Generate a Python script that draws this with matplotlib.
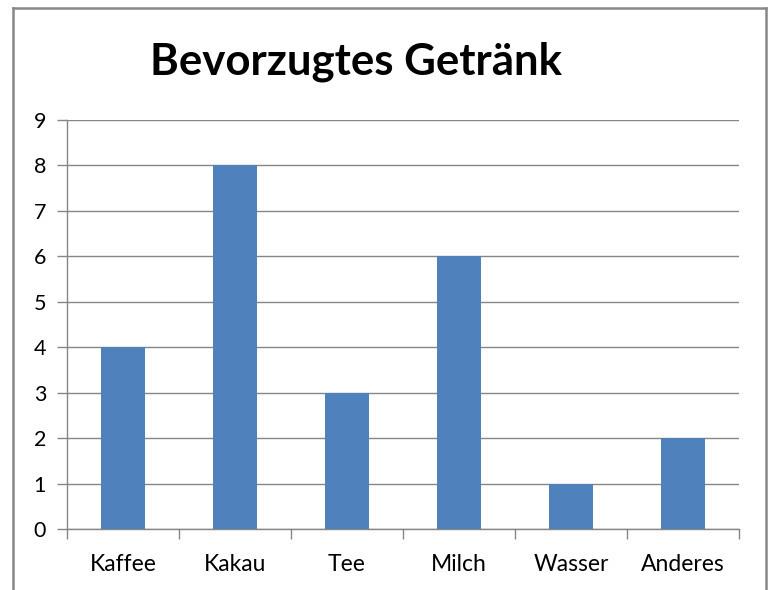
import matplotlib
matplotlib.use("Agg")
import matplotlib.pyplot as plt
from matplotlib.lines import Line2D
import numpy as np

categories = ["Kaffee", "Kakau", "Tee", "Milch", "Wasser", "Anderes"]
values = [4, 8, 3, 6, 1, 2]
yticks = list(range(0, 10))

W, H = 772, 590
fig = plt.figure(figsize=(W / 100, H / 100), dpi=100)
plt.rcParams['font.family'] = ['Lato', 'DejaVu Sans']

L, R, T, B = 67, 739, 120, 529
ax = fig.add_axes([L / W, 1 - B / H, (R - L) / W, (B - T) / H])

x = np.arange(len(categories))
ax.bar(x, values, width=0.4, color="#4F81BD", zorder=3)
ax.set_xlim(-0.5, len(categories) - 0.5)
ax.set_ylim(0, 9)
ax.set_yticks(yticks)
ax.set_yticklabels([str(v) for v in yticks], fontsize=15.5)
ax.set_xticks(x)
ax.set_xticklabels(categories, fontsize=16.5)
ax.set_xticks(np.arange(-0.5, len(categories)), minor=True)
ax.tick_params(axis='x', which='major', length=0, pad=18)
ax.tick_params(axis='x', which='minor', length=7, color="#868686", width=1)
ax.tick_params(axis='y', length=7, color="#868686", width=1, pad=8)
ax.grid(axis='y', color="#868686", linewidth=1, zorder=0)
for s in ['top', 'right']:
    ax.spines[s].set_visible(False)
for s in ['left', 'bottom']:
    ax.spines[s].set_color("#868686")
    ax.spines[s].set_linewidth(1)

fig.text(356 / W, 1 - 62 / H, "Bevorzugtes Getränk", fontsize=31.5, fontweight='bold',
         ha='center', va='center')

# outer border
c = "#888888"
lw = 1.8
fig.add_artist(Line2D([13 / W, 13 / W], [0, 1 - 8 / H], color=c, lw=lw, transform=fig.transFigure))
fig.add_artist(Line2D([13 / W, 766 / W], [1 - 8 / H, 1 - 8 / H], color=c, lw=lw, transform=fig.transFigure))
fig.add_artist(Line2D([766 / W, 766 / W], [0, 1 - 8 / H], color=c, lw=lw, transform=fig.transFigure))

fig.savefig("out.png", dpi=100)
